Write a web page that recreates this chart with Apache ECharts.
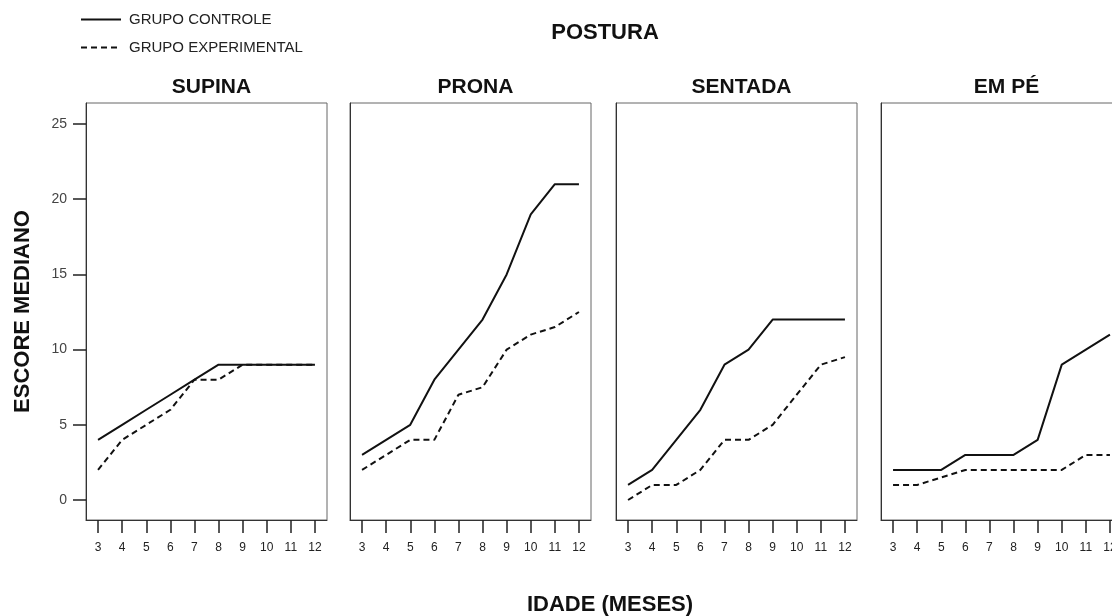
<!DOCTYPE html>
<html>
<head>
<meta charset="utf-8">
<title>Escore mediano por postura</title>
<script src="https://cdn.jsdelivr.net/npm/echarts@6/dist/echarts.min.js"></script>
<style>
  html, body { margin: 0; padding: 0; background: #ffffff; }
  #chart { width: 1112px; height: 616px; }
</style>
</head>
<body>
<div id="chart"></div>
<script>
// Idade em meses (eixo x de cada painel)
const months = ['3', '4', '5', '6', '7', '8', '9', '10', '11', '12'];
const yTicks = [0, 5, 10, 15, 20, 25];

const panelTitles = ['SUPINA', 'PRONA', 'SENTADA', 'EM PÉ'];
const seriesNames = ['GRUPO CONTROLE', 'GRUPO EXPERIMENTAL'];

// Escore mediano por mês, grupo controle e grupo experimental
const supinaControle      = [4, 5, 6, 7, 8, 9, 9, 9, 9, 9];
const supinaExperimental  = [2, 4, 5, 6, 8, 8, 9, 9, 9, 9];
const pronaControle       = [3, 4, 5, 8, 10, 12, 15, 19, 21, 21];
const pronaExperimental   = [2, 3, 4, 4, 7, 7.5, 10, 11, 11.5, 12.5];
const sentadaControle     = [1, 2, 4, 6, 9, 10, 12, 12, 12, 12];
const sentadaExperimental = [0, 1, 1, 2, 4, 4, 5, 7, 9, 9.5];
const emPeControle        = [2, 2, 2, 3, 3, 3, 4, 9, 10, 11];
const emPeExperimental    = [1, 1, 1.5, 2, 2, 2, 2, 2, 3, 3];

const panels = [
  [supinaControle, supinaExperimental],
  [pronaControle, pronaExperimental],
  [sentadaControle, sentadaExperimental],
  [emPeControle, emPeExperimental]
];

const FONT = "'Liberation Sans', Arial, sans-serif";
const gridLefts = [86, 350, 616, 881];
const gridWidth = 241;
const gridTop = 103;
const gridHeight = 417;

const grids = [], xAxes = [], yAxes = [], series = [];
const titles = [
  { text: 'POSTURA', left: 600, top: 17, textAlign: 'center',
    textStyle: { fontFamily: FONT, fontSize: 22, fontWeight: 'bold', color: '#111' } },
  { text: 'IDADE (MESES)', left: 605, top: 589, textAlign: 'center',
    textStyle: { fontFamily: FONT, fontSize: 22, fontWeight: 'bold', color: '#111' } }
];

panels.forEach((pair, i) => {
  grids.push({
    left: gridLefts[i], top: gridTop, width: gridWidth, height: gridHeight,
    show: true, borderColor: '#666', borderWidth: 1, backgroundColor: '#fff',
    containLabel: false, outerBoundsMode: 'none'
  });
  titles.push({
    text: panelTitles[i], left: gridLefts[i] + gridWidth / 2, top: 72, textAlign: 'center',
    textStyle: { fontFamily: FONT, fontSize: 21, fontWeight: 'bold', color: '#111' }
  });
  xAxes.push({
    type: 'category', gridIndex: i, data: months, boundaryGap: true,
    axisLine: { show: true, onZero: false, lineStyle: { color: '#333', width: 1 } },
    axisTick: { show: true, alignWithLabel: true, length: 13, lineStyle: { color: '#222', width: 1.5 } },
    axisLabel: { margin: 22, fontFamily: FONT, fontSize: 12, color: '#222', interval: 0 },
    splitLine: { show: false }
  });
  const first = i === 0;
  yAxes.push({
    type: 'value', gridIndex: i, min: -1.33, max: 26.4,
    name: first ? 'ESCORE MEDIANO' : '',
    nameLocation: 'middle', nameGap: 52, nameRotate: 90,
    nameTextStyle: { fontFamily: FONT, fontSize: 22, fontWeight: 'bold', color: '#111' },
    axisLine: { show: true, onZero: false, lineStyle: { color: '#333', width: 1 } },
    axisTick: { show: first, length: 13, customValues: yTicks, lineStyle: { color: '#222', width: 1.5 } },
    axisLabel: { show: first, margin: 19, customValues: yTicks, fontFamily: FONT, fontSize: 14, color: '#444' },
    splitLine: { show: false }
  });
  pair.forEach((values, k) => {
    series.push({
      name: seriesNames[k], type: 'line', xAxisIndex: i, yAxisIndex: i,
      data: values, symbol: 'none', smooth: false, silent: true,
      lineStyle: { color: '#111', width: 2, type: k === 0 ? 'solid' : [6, 4] },
      itemStyle: { color: '#111' }
    });
  });
});

const chart = echarts.init(document.getElementById('chart'), null, { renderer: 'canvas' });
chart.setOption({
  backgroundColor: '#ffffff',
  animation: false,
  title: titles,
  legend: {
    orient: 'vertical', left: 75, top: 7, itemWidth: 40, itemHeight: 14, itemGap: 13,
    data: seriesNames,
    itemStyle: { opacity: 0 },
    textStyle: { fontFamily: FONT, fontSize: 15, color: '#222', padding: [0, 0, 0, 3] }
  },
  grid: grids,
  xAxis: xAxes,
  yAxis: yAxes,
  series: series
});
</script>
</body>
</html>
